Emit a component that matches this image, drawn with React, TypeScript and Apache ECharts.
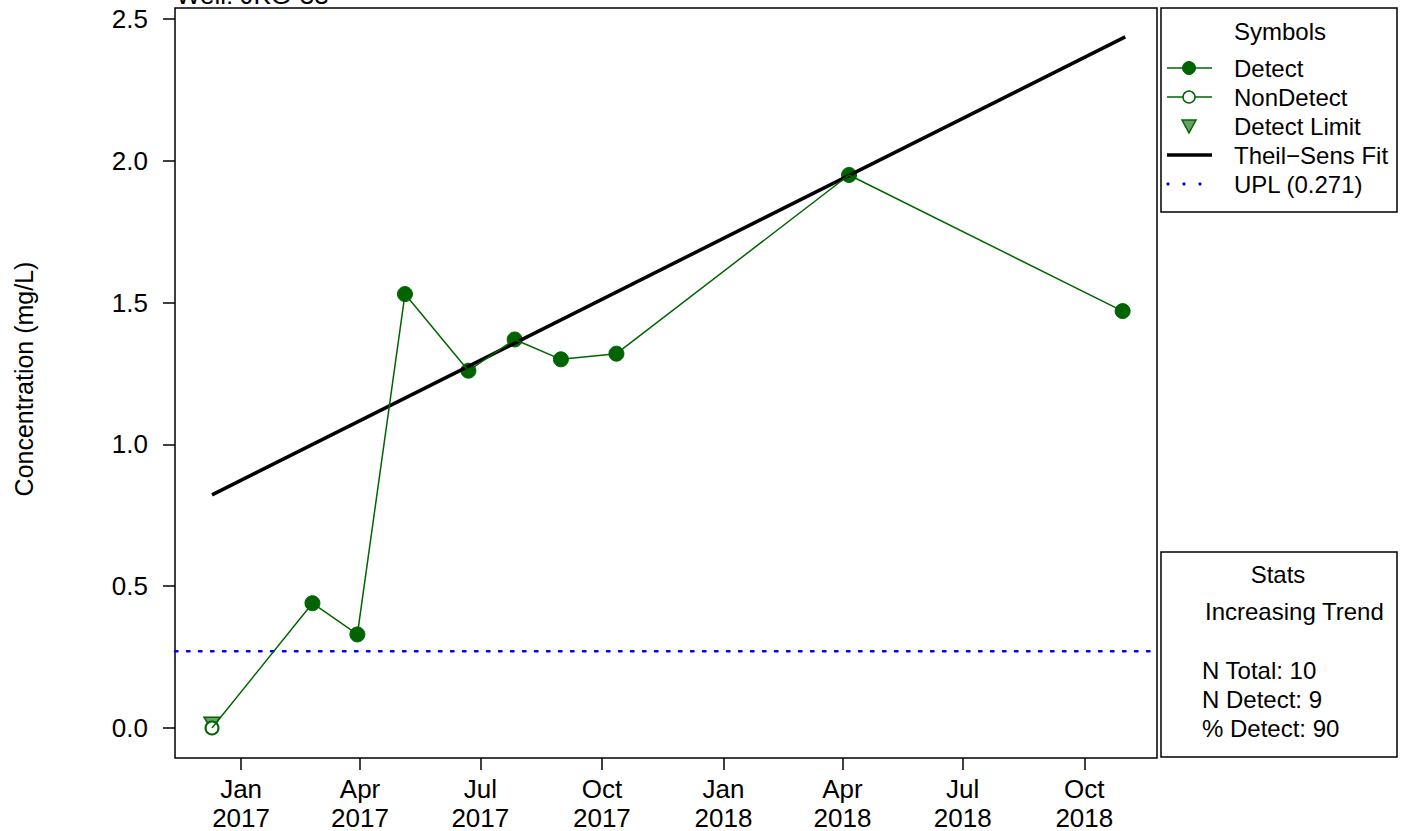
import React, { useEffect, useRef } from "react";
import * as echarts from "echarts";

const sampleDates = [
  "2016-12-10", "2017-02-24", "2017-03-30", "2017-05-05", "2017-06-22",
  "2017-07-27", "2017-08-31", "2017-10-12", "2018-04-06", "2018-10-30",
];
const concentrations = [0.0, 0.44, 0.33, 1.53, 1.26, 1.37, 1.3, 1.32, 1.95, 1.47];
const isDetect = [false, true, true, true, true, true, true, true, true, true];
const detectLimitDates = ["2016-12-10"];
const detectLimitValues = [0.015];
const theilSensDates = ["2016-12-10", "2018-11-01"];
const theilSensValues = [0.822, 2.437];
const uplValue = 0.271;
const xTickDates = [
  "2017-01-01", "2017-04-01", "2017-07-01", "2017-10-01",
  "2018-01-01", "2018-04-01", "2018-07-01", "2018-10-01",
];
const yTickValues = [0, 0.5, 1.0, 1.5, 2.0, 2.5];
const monthNames = ["Jan", "Feb", "Mar", "Apr", "May", "Jun", "Jul", "Aug", "Sep", "Oct", "Nov", "Dec"];
const legendLabels = ["Detect", "NonDetect", "Detect Limit", "Theil\u2212Sens Fit", "UPL (0.271)"];
const statsLines = ["N Total: 10", "N Detect: 9", "% Detect: 90"];
const trendLabel = "Increasing Trend";
const wellTitle = "Well: JKG-33";

const t = (s: string) => new Date(s + "T00:00:00Z").getTime();
const X_MIN = t("2016-11-12");
const X_MAX = t("2018-11-25");
const Y_MIN = -0.1058;
const Y_MAX = 2.5388;

const GREEN = "#006400";
const FONT = "'Liberation Sans', Arial, Helvetica, sans-serif";

export default function App() {
  const ref = useRef<HTMLDivElement>(null);
  useEffect(() => {
    if (!ref.current) return;
    const chart = echarts.init(ref.current, undefined, { renderer: "svg" });

    const lineData = sampleDates.map((d, i) => [t(d), concentrations[i]]);
    const detectData = sampleDates
      .map((d, i) => (isDetect[i] ? [t(d), concentrations[i]] : null))
      .filter((v) => v !== null);
    const nonDetectData = sampleDates
      .map((d, i) => (!isDetect[i] ? [t(d), concentrations[i]] : null))
      .filter((v) => v !== null);
    const dlData = detectLimitDates.map((d, i) => [t(d), detectLimitValues[i]]);
    const tsData = theilSensDates.map((d, i) => [t(d), theilSensValues[i]]);

    const lx0 = 1167, lx1 = 1212, lxc = 1189, ltx = 1234;
    const rowY = [68, 97, 126, 155, 184];
    const txt = (x: number, y: number, s: string, align = "left", size = 24) => ({
      type: "text",
      x,
      y,
      style: { text: s, fontSize: size, fontFamily: FONT, fill: "#000", align, verticalAlign: "middle" },
    });

    const graphics: any[] = [
      // title (cut off at top, as in the reference)
      { type: "text", x: 176, y: -5, style: { text: wellTitle, fontSize: 26, fontFamily: FONT, fill: "#000", align: "left", verticalAlign: "middle" } },
      // y axis title
      {
        type: "text", x: 24, y: 379, rotation: Math.PI / 2,
        style: { text: "Concentration (mg/L)", fontSize: 25, fontFamily: FONT, fill: "#000", align: "center", verticalAlign: "middle" },
      },
      // legend box
      { type: "rect", shape: { x: 1161, y: 8, width: 236, height: 204 }, style: { fill: "#fff", stroke: "#000", lineWidth: 1.5 } },
      txt(1280, 31, "Symbols", "center"),
      { type: "line", shape: { x1: lx0, y1: rowY[0], x2: lx1, y2: rowY[0] }, style: { stroke: GREEN, lineWidth: 1.5 } },
      { type: "circle", shape: { cx: lxc, cy: rowY[0], r: 6.5 }, style: { fill: GREEN, stroke: GREEN, lineWidth: 1 } },
      { type: "line", shape: { x1: lx0, y1: rowY[1], x2: lx1, y2: rowY[1] }, style: { stroke: GREEN, lineWidth: 1.5 } },
      { type: "circle", shape: { cx: lxc, cy: rowY[1], r: 6 }, style: { fill: "#fff", stroke: GREEN, lineWidth: 1.5 } },
      { type: "polygon", shape: { points: [[lxc - 7, rowY[2] - 6], [lxc + 7, rowY[2] - 6], [lxc, rowY[2] + 7]] }, style: { fill: "#66a066", stroke: GREEN, lineWidth: 1.5 } },
      { type: "line", shape: { x1: lx0, y1: rowY[3], x2: lx1, y2: rowY[3] }, style: { stroke: "#000", lineWidth: 3.5 } },
      { type: "circle", shape: { cx: 1168, cy: rowY[4], r: 1.6 }, style: { fill: "#0000ff" } },
      { type: "circle", shape: { cx: 1184, cy: rowY[4], r: 1.6 }, style: { fill: "#0000ff" } },
      { type: "circle", shape: { cx: 1200, cy: rowY[4], r: 1.6 }, style: { fill: "#0000ff" } },
      ...legendLabels.map((s, i) => txt(ltx, rowY[i], s)),
      // stats box
      { type: "rect", shape: { x: 1161, y: 552, width: 236, height: 205 }, style: { fill: "#fff", stroke: "#000", lineWidth: 1.5 } },
      txt(1278, 574, "Stats", "center"),
      txt(1205, 611, trendLabel),
      ...statsLines.map((s, i) => txt(1202, 670 + i * 29, s)),
    ];

    chart.setOption({
      animation: false,
      backgroundColor: "#fff",
      textStyle: { fontFamily: FONT },
      grid: {
        left: 175, top: 8, width: 982, height: 750,
        outerBoundsMode: "none",
        containLabel: false,
        show: true, borderColor: "#000", borderWidth: 1.5, backgroundColor: "transparent",
      },
      xAxis: {
        type: "value",
        min: X_MIN,
        max: X_MAX,
        axisLine: { show: false, onZero: false },
        splitLine: { show: false },
        axisTick: { show: true, inside: false, length: 12, lineStyle: { color: "#000", width: 1.5 }, customValues: xTickDates.map(t) },
        axisLabel: {
          customValues: xTickDates.map(t),
          fontSize: 26, color: "#000", fontFamily: FONT, margin: 16, lineHeight: 29,
          formatter: (v: number) => {
            const d = new Date(v);
            return monthNames[d.getUTCMonth()] + "\n" + d.getUTCFullYear();
          },
        },
      },
      yAxis: {
        type: "value",
        min: Y_MIN,
        max: Y_MAX,
        axisLine: { show: false, onZero: false },
        splitLine: { show: false },
        axisTick: { show: true, inside: false, length: 12, lineStyle: { color: "#000", width: 1.5 }, customValues: yTickValues },
        axisLabel: {
          customValues: yTickValues,
          fontSize: 26, color: "#000", fontFamily: FONT, margin: 27,
          formatter: (v: number) => v.toFixed(1),
        },
      },
      series: [
        {
          type: "line",
          data: [[X_MIN, uplValue], [X_MAX, uplValue]],
          showSymbol: false,
          lineStyle: { color: "#0000ff", width: 2.5, type: [2.5, 9.5], cap: "round" },
          silent: true,
        },
        {
          type: "line",
          data: tsData,
          showSymbol: false,
          lineStyle: { color: "#000", width: 3.5 },
          silent: true,
        },
        {
          type: "line",
          data: lineData,
          showSymbol: false,
          lineStyle: { color: GREEN, width: 1.5 },
          silent: true,
        },
        {
          type: "scatter",
          data: dlData,
          symbol: "triangle",
          symbolRotate: 180,
          symbolSize: [16, 13],
          itemStyle: { color: "#66a066", borderColor: GREEN, borderWidth: 1.5, opacity: 1 },
        },
        {
          type: "scatter",
          data: nonDetectData,
          symbol: "circle",
          symbolSize: 13,
          itemStyle: { color: "#fff", borderColor: GREEN, borderWidth: 2, opacity: 1 },
        },
        {
          type: "scatter",
          data: detectData,
          symbol: "circle",
          symbolSize: 15,
          itemStyle: { color: GREEN, borderColor: GREEN, borderWidth: 1, opacity: 1 },
        },
      ],
      graphic: graphics,
    });
    return () => chart.dispose();
  }, []);

  return (
    <div
      ref={ref}
      style={{ position: "fixed", left: 0, top: 0, width: 1402, height: 831, background: "#fff" }}
    />
  );
}
